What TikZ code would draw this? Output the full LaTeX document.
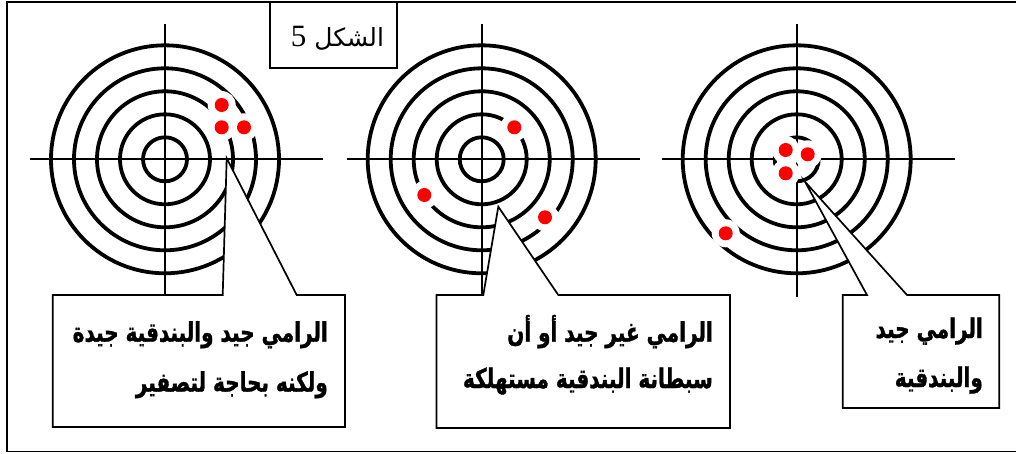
\documentclass[tikz,border=0pt]{standalone}
\usepackage{fontspec}
\setmainfont{Liberation Serif}
\newfontfamily\arabicfont[Script=Arabic]{DejaVu Sans}
\newfontfamily\arabicbold[Script=Arabic,FakeStretch=0.74,FakeBold=1.2]{DejaVu Sans Bold}
\TeXXeTstate=1
\begin{document}
\begin{tikzpicture}[x=1pt,y=-1pt,
  ring/.style={line width=3.8pt},
  axis/.style={line width=1.9pt},
  halo/.style={fill=white},
  shot/.style={fill=red},
  callout/.style={draw=black,fill=white,line width=1.7pt,line join=miter},
  frameline/.style={line width=1.9pt},
  lbl/.style={inner sep=0pt,font=\arabicbold\fontsize{27}{30}\selectfont},
  ttl/.style={inner sep=0pt}]
\useasboundingbox (0,0) rectangle (1016,453);
% frame
\draw[frameline] (1020,1.7) -- (6.7,1.7) -- (6.7,451.5) -- (1020,451.5);
% centres
\coordinate (c1) at (165,159.3);
\coordinate (c2) at (481.7,159.3);
\coordinate (c3) at (796.7,159.3);
% targets
\foreach \c in {c1,c2,c3}{
  \foreach \r in {22,45,68,91,114}{
    \draw[ring] (\c) circle[radius=\r pt];
  }
  \draw[axis] ([xshift=-135pt]\c) -- ([xshift=158pt]\c);
  \draw[axis] ([yshift=135pt]\c) -- ([yshift=-138pt]\c);
}
% halos
\foreach \p in {(221.7,105),(221.7,127.3),(244,127.3),(514.3,127.3),(424.3,195),(545,217.3),(785.7,150),(807.7,154.3),(785.7,173.3),(725.7,233.3)}{
  \fill[halo] \p circle[radius=14pt];
}
\foreach \p in {(221.7,105),(221.7,127.3),(244,127.3),(514.3,127.3),(424.3,195),(545,217.3),(785.7,150),(807.7,154.3),(785.7,173.3),(725.7,233.3)}{
  \fill[shot] \p circle[radius=7pt];
}
% callouts
\coordinate (tip1) at (226.7,158.3);
\coordinate (tip2) at (498.3,206.7);
\coordinate (tip3) at (805,181.7);
\draw[callout] (52.7,295) -- (222.7,295) -- (tip1) -- (296.7,295) -- (345,295) -- (345,427) -- (52.7,427) -- cycle;
\draw[callout] (436.5,295) -- (483.3,295) -- (tip2) -- (558.3,295) -- (730,295) -- (730,428) -- (436.5,428) -- cycle;
\draw[callout] (842.7,295) -- (867,295) -- (tip3) -- (907,295) -- (999.3,295) -- (999.3,408) -- (842.7,408) -- cycle;
% texts
\node[lbl,anchor=base east] (t1a) at (328,341.7) {\beginR الرامي جيد والبندقية جيدة\endR};
\node[lbl,anchor=base east] (t1b) at (328,391.7) {\beginR ولكنه بحاجة لتصفير\endR};
\node[lbl,anchor=base east] (t2a) at (713,341.7) {\beginR الرامي غير جيد أو أن\endR};
\node[lbl,anchor=base east] (t2b) at (713,388) {\beginR سبطانة البندقية مستهلكة\endR};
\node[lbl,anchor=base east] (t3a) at (983,338) {\beginR الرامي جيد\endR};
\node[lbl,anchor=base east] (t3b) at (983,387) {\beginR والبندقية\endR};
% title
\draw[line width=1.7pt,fill=white] (270,1.7) rectangle (396.7,68.3);
\node[ttl,anchor=base] (title) at (337.5,46.7) {\fontsize{25}{30}\selectfont\arabicfont\beginR الشكل {\rmfamily\fontsize{31}{34}\selectfont 5}\endR};
\end{tikzpicture}
\end{document}
